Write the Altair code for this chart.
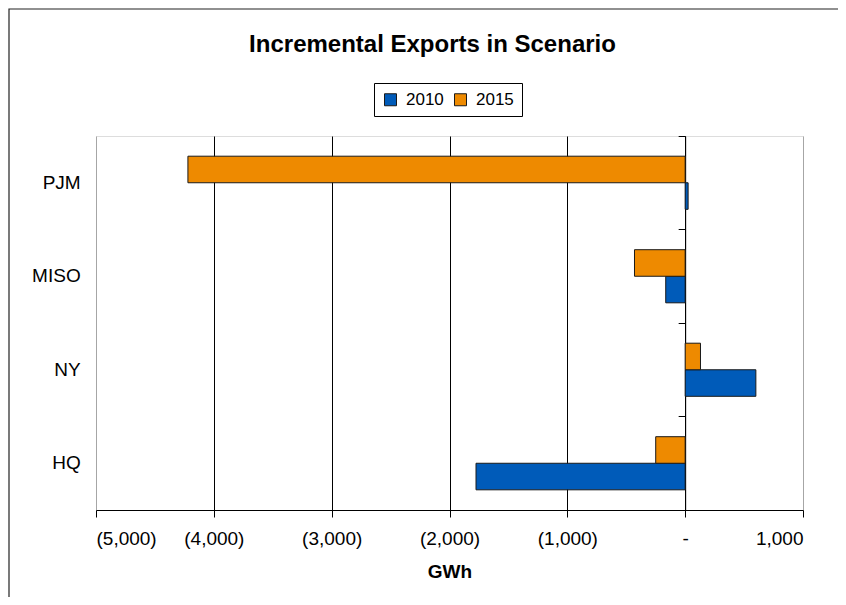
import altair as alt
import pandas as pd

regions = ["PJM", "MISO", "NY", "HQ"]
years = ["2010", "2015"]
values_2010 = [25, -165, 600, -1775]
values_2015 = [-4220, -430, 130, -250]
x_ticks = [-5000, -4000, -3000, -2000, -1000, 0, 1000]
colors = ["#005BB9", "#EE8A00"]

rows = []
for r, v10, v15 in zip(regions, values_2010, values_2015):
    rows.append({"region": r, "year": "2010", "value": v10})
    rows.append({"region": r, "year": "2015", "value": v15})
df = pd.DataFrame(rows)

FONT = "Liberation Sans"

label_expr = ("datum.value < 0 ? '(' + format(-datum.value, ',') + ')' : "
              "(datum.value == 0 ? '-' : format(datum.value, ','))")

bars = alt.Chart(df).mark_bar(stroke="#1a1a1a", strokeWidth=1).encode(
    x=alt.X("value:Q",
            scale=alt.Scale(domain=[-5000, 1000], nice=False, zero=False),
            axis=alt.Axis(values=x_ticks, labelExpr=label_expr, grid=True,
                          gridColor={"condition": {"test": "datum.value == -5000 || datum.value == 1000",
                                                   "value": "#a6a6a6"},
                                     "value": "#000000"},
                          gridOpacity=1, gridWidth=1,
                          tickColor="#000000", tickSize=7, domainColor="#000000",
                          labelFontSize=19, labelColor="#000000", labelPadding=12,
                          labelFont=FONT,
                          title="GWh", titleFont=FONT, titleFontSize=19,
                          titleFontWeight="bold", titleColor="#000000",
                          titlePadding=14)),
    y=alt.Y("region:N", sort=regions,
            scale=alt.Scale(paddingInner=0, paddingOuter=0),
            axis=alt.Axis(orient="left", offset=-589.17, bandPosition=0,
                          labelPadding=598, tickSize=7,
                          tickColor="#000000", domainColor="#000000",
                          labelFontSize=19, labelColor="#000000", labelFont=FONT,
                          title=None, grid=False)),
    yOffset=alt.YOffset("year:N", sort=["2015", "2010"],
                        scale=alt.Scale(paddingInner=0, paddingOuter=0.76)),
    color=alt.Color("year:N", sort=years,
                    scale=alt.Scale(domain=years, range=colors),
                    legend=alt.Legend(orient="none", legendX=278, legendY=-53,
                                      direction="horizontal", title=None,
                                      strokeColor="#000000", padding=8,
                                      symbolType="square", symbolSize=144,
                                      symbolStrokeColor="#1a1a1a", symbolStrokeWidth=1,
                                      labelFontSize=17, labelFont=FONT,
                                      labelColor="#000000", labelOffset=7,
                                      columnPadding=8)),
)

one = pd.DataFrame({"a": [0]})
frame = alt.Chart(one).mark_rect(fill=None, stroke="#222222", strokeWidth=1.2).encode(
    x=alt.value(-87), x2=alt.value(790), y=alt.value(-127), y2=alt.value(500))

chart = alt.layer(bars, frame).properties(
    width=707, height=374,
    autosize=alt.AutoSizeParams(type="none"),
    padding={"left": 88, "top": 128, "right": 35, "bottom": 87},
    title=alt.Title("Incremental Exports in Scenario", font=FONT, fontSize=24,
                    fontWeight="bold", color="#000000", anchor="middle",
                    dx=-17, offset=-49),
).configure_view(stroke="#a6a6a6", strokeWidth=1.5
).configure(background="white")

chart.save("out.html", embed_options={"renderer": "svg", "actions": False})
